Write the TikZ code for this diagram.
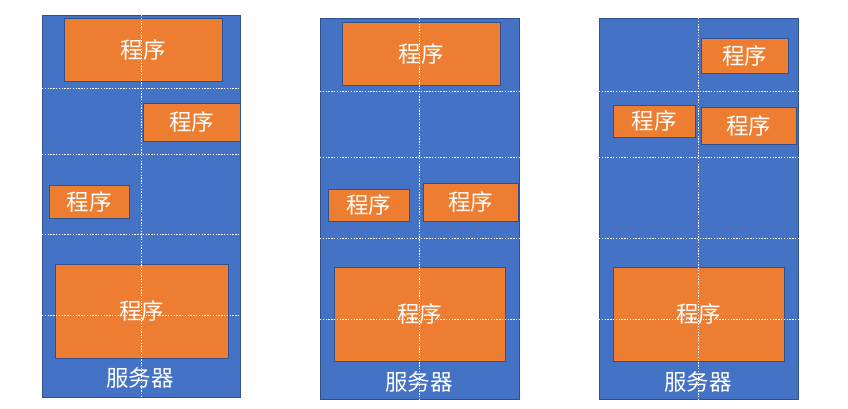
\documentclass[tikz,border=0pt]{standalone}
\usepackage{fontspec}
\newfontfamily\cjk{Noto Sans CJK SC}
\definecolor{srvblue}{HTML}{4472C4}
\definecolor{prgorange}{HTML}{ED7D31}
\definecolor{edgeblue}{HTML}{2F528F}
\begin{document}
\begin{tikzpicture}[x=1pt,y=-1pt,
  server/.style={draw=edgeblue,fill=srvblue,line width=0.8pt,inner sep=0pt,outer sep=0pt},
  prog/.style={draw=edgeblue,fill=prgorange,line width=0.8pt,inner sep=0pt,outer sep=0pt,
    text=white,font=\cjk\fontsize{22.5}{26}\selectfont},
  lbl/.style={text=white,font=\cjk\fontsize{22.5}{26}\selectfont,inner sep=0pt},
  gridline/.style={white,line width=0.7pt,dash pattern=on 1.4pt off 1.4pt}]
\useasboundingbox (0,0) rectangle (848,409);
% ---------- panel 1
\node[server,minimum width=198pt,minimum height=382pt] (S1) at (141,206) {};
\node[prog,minimum width=158pt,minimum height=63pt] (P1a) at (143,49.5) {程序};
\node[prog,minimum width=97pt,minimum height=38pt] (P1b) at (191.5,122) {程序};
\node[prog,minimum width=80pt,minimum height=33pt] (P1c) at (89,201.5) {程序};
\node[prog,minimum width=173pt,minimum height=94pt] (P1d) at (141.5,311) {程序};
\node[lbl] (L1) at (140,378) {服务器};
\draw[gridline] (S1.north -| 141.3,0) -- (S1.south -| 141.3,0);
\foreach \yy in {88.3,154.3,234.3,315}
  \draw[gridline] (S1.west |- 0,\yy) -- (S1.east |- 0,\yy);
% ---------- panel 2
\node[server,minimum width=199pt,minimum height=381pt] (S2) at (419.5,208.5) {};
\node[prog,minimum width=158pt,minimum height=63pt] (P2a) at (421,53.5) {程序};
\node[prog,minimum width=81pt,minimum height=32pt] (P2b) at (368.5,205) {程序};
\node[prog,minimum width=95pt,minimum height=38pt] (P2c) at (470.5,202) {程序};
\node[prog,minimum width=171pt,minimum height=94pt] (P2d) at (419.5,314) {程序};
\node[lbl] (L2) at (419,382) {服务器};
\draw[gridline] (S2.north -| 419.3,0) -- (S2.south -| 419.3,0);
\foreach \yy in {91,157.3,238.3,319.3}
  \draw[gridline] (S2.west |- 0,\yy) -- (S2.east |- 0,\yy);
% ---------- panel 3
\node[server,minimum width=199pt,minimum height=381pt] (S3) at (698.5,208.5) {};
\node[prog,minimum width=87pt,minimum height=35pt] (P3a) at (744.5,55.5) {程序};
\node[prog,minimum width=82pt,minimum height=32pt] (P3b) at (654,121) {程序};
\node[prog,minimum width=95pt,minimum height=37pt] (P3c) at (748.5,125.5) {程序};
\node[prog,minimum width=171pt,minimum height=94pt] (P3d) at (698.5,314) {程序};
\node[lbl] (L3) at (698,382) {服务器};
\draw[gridline] (S3.north -| 698.3,0) -- (S3.south -| 698.3,0);
\foreach \yy in {91,157.3,238.3,319.3}
  \draw[gridline] (S3.west |- 0,\yy) -- (S3.east |- 0,\yy);
\end{tikzpicture}
\end{document}
